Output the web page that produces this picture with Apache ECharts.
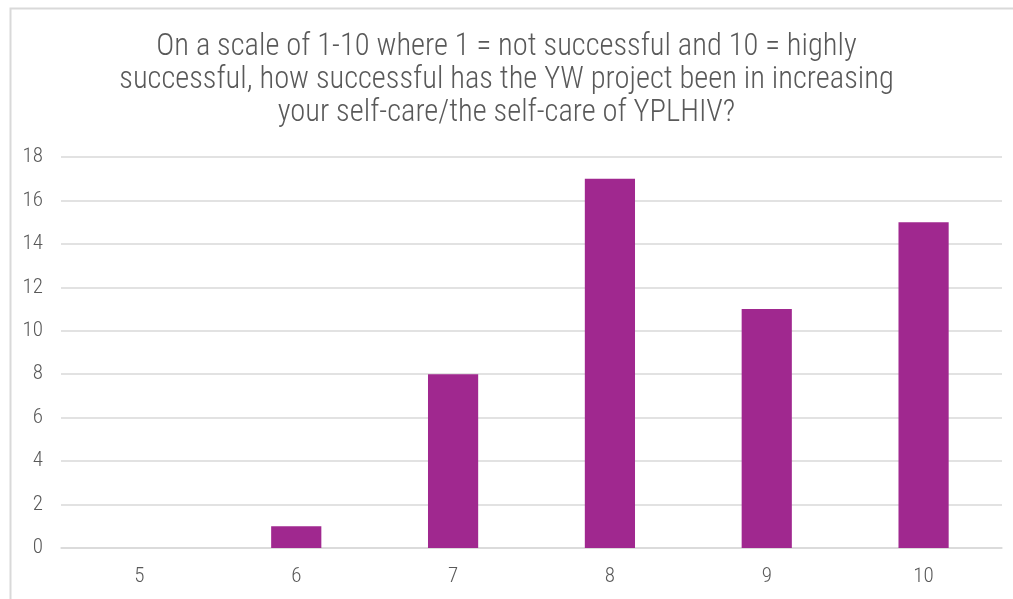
<!DOCTYPE html>
<html><head><meta charset="utf-8">
<script src="https://cdn.jsdelivr.net/npm/echarts@6/dist/echarts.min.js"></script>
<style>html,body{margin:0;padding:0;background:#fff}#c{width:1013px;height:599px}</style>
</head><body><div id="c"></div>
<script>
const titleText = "On a scale of 1-10 where 1 = not successful and 10 = highly\nsuccessful, how successful has the YW project been in increasing\nyour self-care/the self-care of YPLHIV?";
const categories = ["5", "6", "7", "8", "9", "10"];
const counts = [0, 1, 8, 17, 11, 15];
const yTicks = [0, 2, 4, 6, 8, 10, 12, 14, 16, 18];

const FONT = "'Roboto Condensed', 'Liberation Sans Narrow', 'DejaVu Sans Condensed', sans-serif";
const chart = echarts.init(document.getElementById('c'), null, {renderer: 'canvas'});
chart.setOption({
  backgroundColor: '#fff',
  animation: false,
  graphic: [{
    type: 'rect', left: 8, top: 6, z: -1,
    shape: {width: 1200, height: 800},
    style: {fill: 'none', stroke: '#d9d9d9', lineWidth: 2}
  }],
  title: {
    text: titleText, left: 'center', top: 26, padding: [5, 0, 5, 21],
    textStyle: {fontFamily: FONT, fontSize: 30.5, fontWeight: 300, color: '#595959', lineHeight: 33}
  },
  grid: {left: 61, right: 11, top: 157, bottom: 51, containLabel: false},
  xAxis: {
    type: 'category', data: categories,
    axisLine: {show: true, lineStyle: {color: '#d9d9d9', width: 1.5}},
    axisTick: {show: false},
    axisLabel: {fontFamily: FONT, fontSize: 21, fontWeight: 300, color: '#595959', margin: 18}
  },
  yAxis: {
    type: 'value', min: yTicks[0], max: yTicks[yTicks.length - 1], interval: 2,
    axisLine: {show: false}, axisTick: {show: false},
    splitLine: {lineStyle: {color: '#d9d9d9', width: 1.5}},
    axisLabel: {fontFamily: FONT, fontSize: 21, fontWeight: 300, color: '#595959', margin: 18}
  },
  series: [{
    type: 'bar', data: counts, barWidth: '32%',
    itemStyle: {color: '#A0288F'}
  }]
});
</script></body></html>
